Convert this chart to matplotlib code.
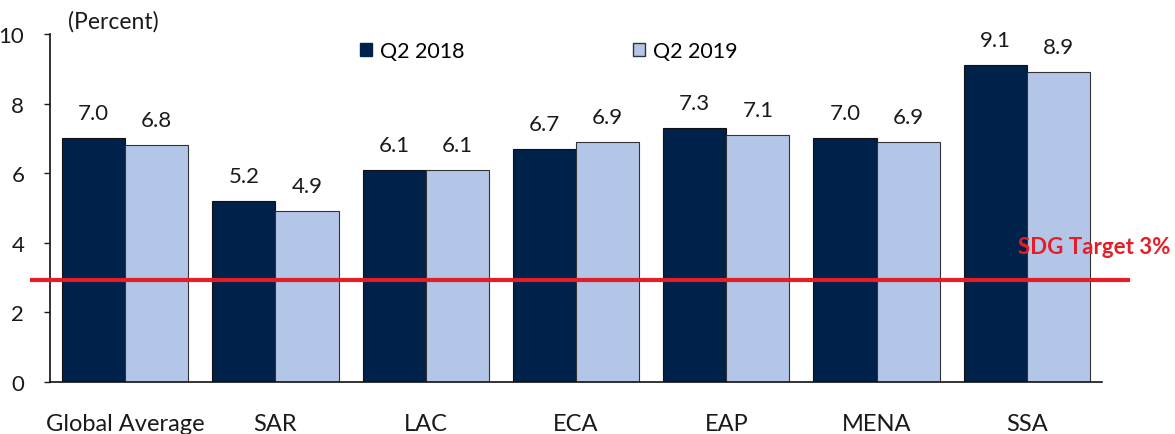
import numpy as np
import matplotlib
matplotlib.use("Agg")
import matplotlib.pyplot as plt
from matplotlib.patches import Patch
import matplotlib.transforms as mtransforms

plt.rcParams['font.family'] = ['Lato', 'DejaVu Sans']

regions = ['Global Average', 'SAR', 'LAC', 'ECA', 'EAP', 'MENA', 'SSA']
q2_2018 = [7.0, 5.2, 6.1, 6.7, 7.3, 7.0, 9.1]
q2_2019 = [6.8, 4.9, 6.1, 6.9, 7.1, 6.9, 8.9]
series_names = ['Q2 2018', 'Q2 2019']
sdg_target = 2.92
yticks = [0, 2, 4, 6, 8, 10]

dark = '#00214A'
light = '#B4C6E7'
red = '#E41E26'
txt = '#1a1a1a'

W, H = 1175, 435
fig = plt.figure(figsize=(W / 100, H / 100), dpi=100)
ax = fig.add_axes([50 / W, (H - 383) / H, 1052 / W, 348 / H])

x = np.arange(len(regions))
bw = 0.42
b1 = ax.bar(x - bw / 2, q2_2018, bw, color=dark, edgecolor='#111111', linewidth=0.8)
b2 = ax.bar(x + bw / 2, q2_2019, bw, color=light, edgecolor='#333333', linewidth=0.8)

# value labels ~24px above bar tops
for bars, vals in ((b1, q2_2018), (b2, q2_2019)):
    for r, v in zip(bars, vals):
        ax.annotate(f'{v:.1f}', (r.get_x() + r.get_width() / 2, v),
                    xytext=(0, 18), textcoords='offset points',
                    ha='center', va='center', fontsize=16, color=txt)

ax.set_xlim(-0.5, 6.5)
ax.set_ylim(0, 10)
ax.set_yticks(yticks)
ax.set_yticklabels([str(t) for t in yticks])
ax.set_xticks(x)
ax.set_xticklabels(regions)
ax.tick_params(axis='y', length=4.5, width=1, pad=14, labelsize=16, colors=txt)
ax.tick_params(axis='x', length=0, pad=22, labelsize=17, colors=txt)
for s in ('top', 'right'):
    ax.spines[s].set_visible(False)
for s in ('left', 'bottom'):
    ax.spines[s].set_linewidth(1.2)
    ax.spines[s].set_color('#111111')

# SDG target line, running past the axes on both sides
ax.axhline(sdg_target, xmin=-0.017, xmax=1.025, color=red, lw=3, clip_on=False, zorder=5)
trans = mtransforms.blended_transform_factory(ax.transAxes, ax.transData)
ax.text(1.065, 3.9, 'SDG Target 3%', transform=trans, ha='right', va='center',
        color=red, fontsize=16, fontweight='bold', clip_on=False)

fig.text(68 / W, 1 - 22 / H, '(Percent)', ha='left', va='center', fontsize=16.5, color=txt)

handles = [Patch(facecolor=dark, edgecolor=dark), Patch(facecolor=light, edgecolor='#333333')]
fig.legend(handles, series_names, loc='center left', bbox_to_anchor=(360 / W, 1 - 52 / H),
           ncol=2, frameon=False, fontsize=15.5, handlelength=0.55, handleheight=0.55,
           handletextpad=0.4, columnspacing=7.8, borderpad=0, borderaxespad=0)

fig.savefig('out.png', dpi=100)
